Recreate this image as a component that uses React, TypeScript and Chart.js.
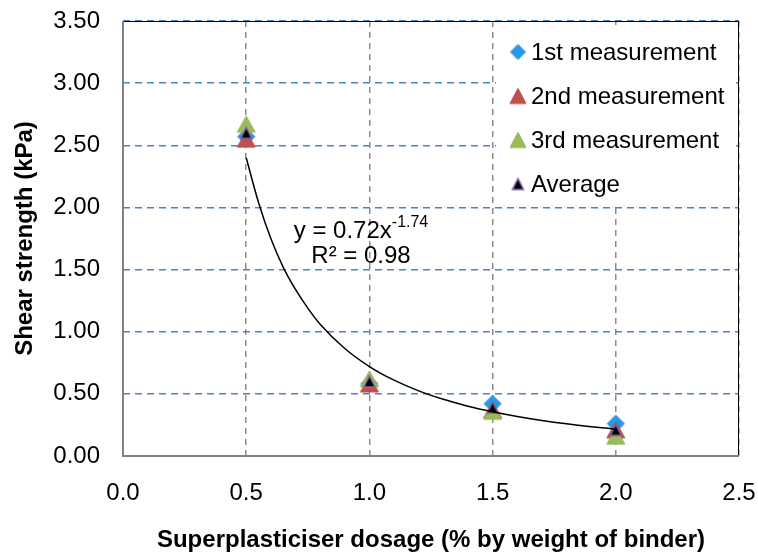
import React, { useEffect, useRef } from 'react';
import { Chart, registerables } from 'chart.js';

Chart.register(...registerables);

// ---- data ----
const DOSAGE = [0.5, 1.0, 1.5, 2.0];
const MEAS_1 = [2.57, 0.58, 0.42, 0.26];
const MEAS_2 = [2.55, 0.58, 0.37, 0.21];
const MEAS_3 = [2.67, 0.62, 0.36, 0.16];
const AVERAGE = [2.60, 0.60, 0.39, 0.21];
const SERIES_NAMES = ['1st measurement', '2nd measurement', '3rd measurement', 'Average'];
// power trendline points
const TREND_X = [0.5, 0.55, 0.6, 0.65, 0.7, 0.75, 0.8, 0.9, 1.0, 1.1, 1.2, 1.3, 1.4, 1.5, 1.6, 1.7, 1.8, 1.9, 2.0];
const TREND_Y = [2.40, 2.04, 1.75, 1.52, 1.34, 1.19, 1.06, 0.865, 0.72, 0.61, 0.524, 0.456, 0.401, 0.356, 0.318, 0.286, 0.259, 0.236, 0.216];
const EQUATION_MAIN = 'y = 0.72x';
const EQUATION_EXP = '-1.74';
const R_SQUARED = 'R² = 0.98';
const X_MIN = 0, X_MAX = 2.5, X_STEP = 0.5;
const Y_MIN = 0, Y_MAX = 3.5, Y_STEP = 0.5;
const X_TITLE = 'Superplasticiser dosage (% by weight of binder)';
const Y_TITLE = 'Shear strength (kPa)';

const FONT = 'Arial, "Liberation Sans", Helvetica, sans-serif';
const AREA = { left: 123, top: 21, right: 739, bottom: 456 };

function makeMarker(shape: string, w: number, h: number, fill: string, stroke: string, lw: number) {
  const c = document.createElement('canvas');
  const pad = 2;
  c.width = Math.ceil(w + pad * 2);
  c.height = Math.ceil(h + pad * 2);
  const g = c.getContext('2d')!;
  g.beginPath();
  if (shape === 'diamond') {
    g.moveTo(pad + w / 2, pad);
    g.lineTo(pad + w, pad + h / 2);
    g.lineTo(pad + w / 2, pad + h);
    g.lineTo(pad, pad + h / 2);
  } else {
    g.moveTo(pad + w / 2, pad);
    g.lineTo(pad + w, pad + h);
    g.lineTo(pad, pad + h);
  }
  g.closePath();
  g.fillStyle = fill;
  g.fill();
  g.lineWidth = lw;
  g.strokeStyle = stroke;
  g.stroke();
  return c;
}

const toXY = (xs: number[], ys: number[]) => xs.map((x, i) => ({ x, y: ys[i] }));

export default function App() {
  const ref = useRef<HTMLCanvasElement>(null);

  useEffect(() => {
    const canvas = ref.current!;
    const mk = [
      makeMarker('diamond', 17, 17, '#1F9BEE', '#3C7CC4', 1),
      makeMarker('triangle', 18, 16, '#C0504D', '#B8474A', 1),
      makeMarker('triangle', 18, 16, '#9BBB59', '#93B352', 1),
      makeMarker('triangle', 11, 11, '#000000', '#8064A2', 1.5),
    ];
    const lg = [
      makeMarker('diamond', 15, 15, '#1F9BEE', '#3C7CC4', 1),
      makeMarker('triangle', 16, 15, '#C0504D', '#B8474A', 1),
      makeMarker('triangle', 16, 15, '#9BBB59', '#93B352', 1),
      makeMarker('triangle', 11, 11, '#000000', '#8064A2', 1.5),
    ];
    const seriesY = [MEAS_1, MEAS_2, MEAS_3, AVERAGE];

    const overlay = {
      id: 'overlay',
      beforeDatasetsDraw(chart: any) {
        const { ctx, chartArea: a } = chart;
        ctx.save();
        ctx.strokeStyle = '#000';
        ctx.lineWidth = 1;
        ctx.beginPath();
        ctx.moveTo(a.left, a.top + 0.5);
        ctx.lineTo(a.right - 0.5, a.top + 0.5);
        ctx.lineTo(a.right - 0.5, a.bottom);
        ctx.stroke();
        ctx.strokeStyle = '#808080';
        ctx.lineWidth = 2;
        ctx.beginPath();
        ctx.moveTo(a.left, a.top);
        ctx.lineTo(a.left, a.bottom);
        ctx.lineTo(a.right, a.bottom);
        ctx.stroke();
        ctx.restore();
      },
      afterDatasetsDraw(chart: any) {
        const { ctx } = chart;
        ctx.save();
        // legend
        ctx.fillStyle = '#fff';
        ctx.fillRect(496, 25, 240, 181);
        ctx.font = `24px ${FONT}`;
        ctx.fillStyle = '#000';
        ctx.textAlign = 'left';
        ctx.textBaseline = 'middle';
        const rows = [52, 96, 140, 184];
        SERIES_NAMES.forEach((n, i) => {
          const im = lg[i];
          ctx.drawImage(im, 518 - im.width / 2, rows[i] - im.height / 2);
          ctx.fillText(n, 531, rows[i] + 1);
        });
        // equation
        ctx.textBaseline = 'alphabetic';
        ctx.font = `24px ${FONT}`;
        const w1 = ctx.measureText(EQUATION_MAIN).width;
        ctx.font = `16px ${FONT}`;
        const w2 = ctx.measureText(EQUATION_EXP).width;
        const cx = 361;
        const x0 = cx - (w1 + w2) / 2;
        ctx.font = `24px ${FONT}`;
        ctx.fillText(EQUATION_MAIN, x0, 238);
        ctx.font = `16px ${FONT}`;
        ctx.fillText(EQUATION_EXP, x0 + w1, 227);
        ctx.font = `24px ${FONT}`;
        ctx.textAlign = 'center';
        ctx.fillText(R_SQUARED, cx, 263);
        ctx.restore();
      },
    };

    const datasets: any[] = SERIES_NAMES.map((name, i) => ({
      label: name,
      data: toXY(DOSAGE, seriesY[i]),
      pointStyle: mk[i],
      pointRadius: 9,
      showLine: false,
      order: 4 - i,
    }));
    datasets.push({
      label: 'Trend',
      data: toXY(TREND_X, TREND_Y),
      showLine: true,
      borderColor: '#000',
      borderWidth: 1.5,
      pointRadius: 0,
      cubicInterpolationMode: 'monotone',
      fill: false,
      order: 0,
    });

    const padding = { top: 21, right: 19, left: 0, bottom: 0 };

    const chart = new Chart(canvas, {
      type: 'scatter',
      data: { datasets },
      options: {
        animation: false,
        responsive: false,
        devicePixelRatio: 1,
        layout: { padding },
        plugins: { legend: { display: false }, tooltip: { enabled: false } },
        scales: {
          x: {
            type: 'linear',
            min: X_MIN,
            max: X_MAX,
            afterFit: (s: any) => { s.height = 101; },
            ticks: {
              stepSize: X_STEP,
              callback: (v: any) => Number(v).toFixed(1),
              font: { size: 24, family: FONT },
              color: '#000',
              padding: 0,
              maxRotation: 0,
            },
            grid: { color: '#8C8C8C', lineWidth: 1.5, drawTicks: true, tickLength: 23, tickColor: 'rgba(0,0,0,0)' },
            border: { display: false, dash: [6, 5] },
            title: {
              display: true,
              text: X_TITLE,
              font: { size: 24, family: FONT, weight: 'bold' },
              color: '#000',
              padding: { top: 0, bottom: 2 },
            },
          },
          y: {
            type: 'linear',
            min: Y_MIN,
            max: Y_MAX,
            afterFit: (s: any) => { s.width = 123; },
            ticks: {
              stepSize: Y_STEP,
              callback: (v: any) => Number(v).toFixed(2),
              font: { size: 24, family: FONT },
              color: '#000',
              padding: 0,
            },
            grid: { color: '#4F81C8', lineWidth: 1.5, drawTicks: true, tickLength: 23, tickColor: 'rgba(0,0,0,0)' },
            border: { display: false, dash: [7, 5] },
            title: {
              display: true,
              text: Y_TITLE,
              font: { size: 24, family: FONT, weight: 'bold' },
              color: '#000',
              padding: { top: 11, bottom: 0 },
            },
          },
        },
      },
      plugins: [overlay],
    } as any);

    // nudge layout padding so the plot area lands where the reference has it
    for (let k = 0; k < 3; k++) {
      const a = chart.chartArea;
      const dTop = AREA.top - a.top;
      const dRight = a.right - AREA.right;
      const dLeft = AREA.left - a.left;
      const dBottom = a.bottom - AREA.bottom;
      if (Math.abs(dTop) < 0.5 && Math.abs(dRight) < 0.5 && Math.abs(dLeft) < 0.5 && Math.abs(dBottom) < 0.5) break;
      padding.top = Math.max(0, padding.top + dTop);
      padding.right = Math.max(0, padding.right + dRight);
      padding.left = Math.max(0, padding.left + dLeft);
      padding.bottom = Math.max(0, padding.bottom + dBottom);
      (chart.options as any).layout.padding = { ...padding };
      chart.update();
    }

    return () => chart.destroy();
  }, []);

  return (
    <div style={{ position: 'fixed', left: 0, top: 0, width: 758, height: 557, background: '#fff' }}>
      <canvas ref={ref} width={758} height={557} style={{ width: 758, height: 557, display: 'block' }} />
    </div>
  );
}
